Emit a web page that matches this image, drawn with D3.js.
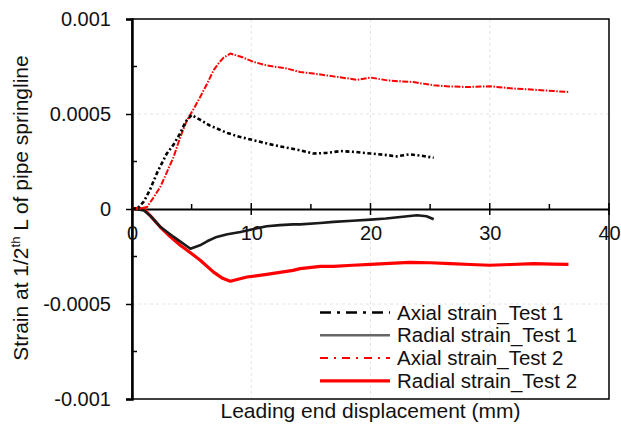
<!DOCTYPE html>
<html>
<head>
<meta charset="utf-8">
<script src="https://cdn.jsdelivr.net/npm/d3@7"></script>
<style>
  body { margin: 0; background: #fff; }
  svg { font-family: "Liberation Sans", Arial, sans-serif; }
</style>
</head>
<body>
<svg id="chart"></svg>
<script>
// data
const axial1X = [0, 0.5, 1, 1.5, 2.1, 2.9, 3.5, 4.05, 4.5, 5.0, 5.7, 6.5, 8.0, 9.0, 10.2, 11.5, 12.7, 14.1, 15.2, 16.3, 17.5, 18.8, 20, 21.2, 22.2, 23.3, 24.3, 25.3];
const axial1Y = [0, 0.000005, 0.00004, 0.0001, 0.00019, 0.00029, 0.00034, 0.0004, 0.00046, 0.000495, 0.00047, 0.00044, 0.0004, 0.00038, 0.000362, 0.000342, 0.000326, 0.000309, 0.000292, 0.000295, 0.000305, 0.0003, 0.000292, 0.000285, 0.000277, 0.000288, 0.00028, 0.00027];

const radial1X = [0, 0.5, 1, 1.6, 2.4, 3.5, 4.9, 5.7, 6.3, 7.1, 8.0, 9.1, 10.2, 11.3, 12.4, 13.5, 14.1, 15.8, 16.9, 18.5, 20, 21.3, 22.5, 23.9, 24.7, 25.3];
const radial1Y = [0, -0.000002, -0.000008, -0.00004, -0.000095, -0.000147, -0.000209, -0.000191, -0.00017, -0.000147, -0.000133, -0.000121, -0.000105, -0.000091, -0.000085, -0.000081, -0.000081, -0.000074, -0.000068, -0.000062, -0.000056, -0.00005, -0.000042, -0.000033, -0.000038, -0.000054];

const axial2X = [0, 0.6, 1.26, 1.8, 2.37, 2.9, 3.49, 4.0, 4.6, 5.2, 5.72, 6.3, 6.84, 7.3, 7.68, 8.24, 9.2, 10.2, 11.3, 13.0, 14.1, 15.2, 16.9, 18.9, 20, 21.4, 22.5, 23.6, 25.3, 26.4, 28.1, 30, 32, 33.7, 35.3, 36.6];
const axial2Y = [0, 0.000001, 0.00001, 0.00006, 0.000116, 0.00019, 0.000274, 0.00037, 0.000467, 0.00053, 0.00059, 0.00066, 0.00073, 0.00077, 0.000797, 0.000818, 0.0008, 0.000774, 0.000756, 0.000739, 0.000721, 0.000713, 0.000698, 0.00068, 0.000692, 0.000677, 0.000672, 0.000668, 0.000651, 0.000646, 0.000642, 0.000646, 0.000634, 0.000628, 0.000621, 0.000616];

const radial2X = [0, 0.5, 1, 1.6, 2.37, 3.2, 4.05, 4.9, 5.72, 6.84, 7.6, 8.24, 8.9, 9.64, 11.3, 13.5, 14.1, 15.8, 16.9, 18.5, 20, 21.6, 23.3, 25, 26.7, 28.4, 30, 31.8, 33.7, 35.2, 36.6];
const radial2Y = [0, 0.000003, 0, -0.00004, -0.000095, -0.000145, -0.000191, -0.00023, -0.00027, -0.000332, -0.000365, -0.00038, -0.00037, -0.000358, -0.000344, -0.000323, -0.000314, -0.000302, -0.000302, -0.000296, -0.000291, -0.000286, -0.000281, -0.000283, -0.000288, -0.000292, -0.000296, -0.000292, -0.000288, -0.00029, -0.000291];

const seriesNames = ["Axial strain_Test 1", "Radial strain_Test 1", "Axial strain_Test 2", "Radial strain_Test 2"];
const xTicks = [0, 10, 20, 30, 40];
const yTicks = [-0.001, -0.0005, 0, 0.0005, 0.001];
const yTickLabels = ["-0.001", "-0.0005", "0", "0.0005", "0.001"];

const width = 621;
const height = 427;
const margin = { top: 19, right: 12, bottom: 28, left: 132 };

const svg = d3.select("#chart")
    .attr("width", width)
    .attr("height", height);

const x = d3.scaleLinear()
    .domain([0, 40])
    .range([margin.left, width - margin.right]);

const y = d3.scaleLinear()
    .domain([-0.001, 0.001])
    .range([height - margin.bottom, margin.top]);

// gridlines
svg.append("g")
    .selectAll("line")
    .data(xTicks.slice(1, -1))
    .enter().append("line")
    .attr("x1", d => x(d)).attr("x2", d => x(d))
    .attr("y1", y(0.001)).attr("y2", y(-0.001))
    .attr("stroke", "#e4e4e4").attr("stroke-dasharray", "3,3");

svg.append("g")
    .selectAll("line")
    .data([-0.0005, 0.0005])
    .enter().append("line")
    .attr("x1", x(0)).attr("x2", x(40))
    .attr("y1", d => y(d)).attr("y2", d => y(d))
    .attr("stroke", "#e4e4e4").attr("stroke-dasharray", "3,3");

// frame
svg.append("rect")
    .attr("x", x(0)).attr("y", y(0.001))
    .attr("width", x(40) - x(0))
    .attr("height", y(-0.001) - y(0.001))
    .attr("fill", "none")
    .attr("stroke", "#000")
    .attr("stroke-width", 1.5);

// y axis
const yAxis = svg.append("g")
    .attr("transform", `translate(${x(0)},0)`)
    .call(d3.axisLeft(y).tickValues(yTicks).tickFormat((d, i) => yTickLabels[i]).tickSize(6).tickPadding(15));
yAxis.select(".domain").attr("stroke-width", 2.5);
yAxis.selectAll(".tick line").attr("stroke-width", 1.5);
yAxis.selectAll("text")
    .style("font-size", "20px")
    .style("font-family", "Liberation Sans, Arial, sans-serif")
    .attr("fill", "#111");

// y minor ticks (inside)
svg.append("g")
    .selectAll("line")
    .data([-0.00075, -0.00025, 0.00025, 0.00075])
    .enter().append("line")
    .attr("x1", x(0)).attr("x2", x(0) + 5)
    .attr("y1", d => y(d)).attr("y2", d => y(d))
    .attr("stroke", "#000").attr("stroke-width", 1.5);

// x axis at zero
const xAxis = svg.append("g")
    .attr("transform", `translate(0,${y(0)})`)
    .call(d3.axisBottom(x).tickValues(xTicks).tickSize(0).tickPadding(17));
xAxis.select(".domain").attr("stroke-width", 2);
xAxis.selectAll("text")
    .style("font-size", "20px")
    .style("font-family", "Liberation Sans, Arial, sans-serif")
    .attr("fill", "#111");

svg.append("g")
    .selectAll("line")
    .data(xTicks.slice(1))
    .enter().append("line")
    .attr("x1", d => x(d)).attr("x2", d => x(d))
    .attr("y1", y(0) - 6).attr("y2", y(0) + 6)
    .attr("stroke", "#000").attr("stroke-width", 1.5);

svg.append("g")
    .selectAll("line")
    .data([5, 15, 25, 35])
    .enter().append("line")
    .attr("x1", d => x(d)).attr("x2", d => x(d))
    .attr("y1", y(0) - 5).attr("y2", y(0))
    .attr("stroke", "#000").attr("stroke-width", 1.5);

// series
const styles = [
    { color: "#000", width: 2.6, dash: "11,6,3,6", plotDash: "4,2.5,2,2.5" },
    { color: "#1a1a1a", legend: "#666", width: 2.6, dash: null, plotDash: null },
    { color: "#ff0000", width: 2, dash: "8,6,2,6", plotDash: "6,1.5,1.5,1.5" },
    { color: "#ff0000", width: 3.2, dash: null, plotDash: null }
];

const series = [
    { xs: axial1X, ys: axial1Y },
    { xs: radial1X, ys: radial1Y },
    { xs: axial2X, ys: axial2Y },
    { xs: radial2X, ys: radial2Y }
];

const line = d3.line()
    .x(d => x(d[0]))
    .y(d => y(d[1]));

// radial first, axial on top
[3, 1, 2, 0].forEach(i => {
    const s = series[i];
    const pts = s.xs.map((v, j) => [v, s.ys[j]]);
    svg.append("path")
        .datum(pts)
        .attr("d", line)
        .attr("fill", "none")
        .attr("stroke", styles[i].color)
        .attr("stroke-width", styles[i].width)
        .attr("stroke-dasharray", styles[i].plotDash)
        .attr("stroke-linejoin", "round");
});

// legend
const legend = svg.append("g")
    .attr("transform", "translate(320,312.5)");

seriesNames.forEach((name, i) => {
    const row = legend.append("g").attr("transform", `translate(0,${i * 22.8})`);
    row.append("line")
        .attr("x1", 0).attr("x2", 70)
        .attr("y1", 0).attr("y2", 0)
        .attr("stroke", styles[i].legend || styles[i].color)
        .attr("stroke-width", styles[i].width)
        .attr("stroke-dasharray", styles[i].dash);
    row.append("text")
        .attr("x", 77).attr("y", 7)
        .style("font-size", "20.5px")
        .attr("fill", "#111")
        .text(name);
});

// axis titles
svg.append("text")
    .attr("x", x(20)).attr("y", 418)
    .attr("text-anchor", "middle")
    .style("font-size", "21px")
    .attr("fill", "#111")
    .text("Leading end displacement (mm)");

const yTitle = svg.append("text")
    .attr("transform", "translate(28,208) rotate(-90)")
    .attr("text-anchor", "middle")
    .style("font-size", "21px")
    .attr("fill", "#111");
yTitle.append("tspan").text("Strain at 1/2");
yTitle.append("tspan").attr("dy", -8).style("font-size", "13px").text("th");
yTitle.append("tspan").attr("dy", 8).text(" L of pipe springline");
</script>
</body>
</html>
